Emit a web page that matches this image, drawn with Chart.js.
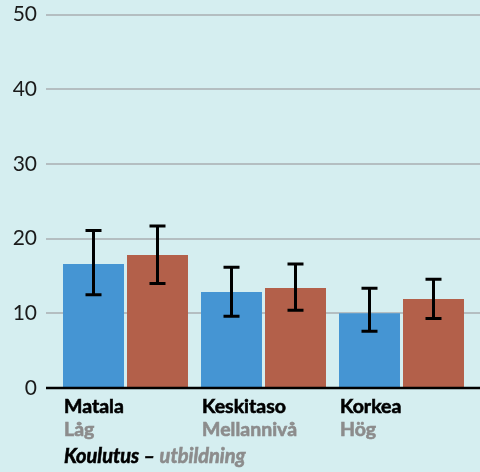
<!DOCTYPE html>
<html lang="fi">
<head>
    <meta charset="UTF-8">
    <title>Koulutus – utbildning</title>
    <script src="https://cdn.jsdelivr.net/npm/chart.js"></script>
    <style>
        html, body {
            margin: 0;
            padding: 0;
            background: #d5eef0;
        }
        #wrap {
            width: 480px;
            height: 472px;
        }
    </style>
</head>
<body>
    <div id="wrap"><canvas id="eduChart" width="480" height="472"></canvas></div>

    <script>
        const categoriesFi = ['Matala', 'Keskitaso', 'Korkea'];
        const categoriesSv = ['Låg', 'Mellannivå', 'Hög'];
        const blueValues = [16.6, 12.85, 10.0];
        const blueLow = [12.5, 9.6, 7.6];
        const blueHigh = [21.1, 16.15, 13.35];
        const redValues = [17.8, 13.4, 11.9];
        const redLow = [14.0, 10.4, 9.3];
        const redHigh = [21.7, 16.6, 14.55];
        const yTicks = [0, 10, 20, 30, 40, 50];

        const FONT = 'Lato, "Open Sans", sans-serif';

        // horizontal grid lines, drawn a bit wider than the plot area
        const gridPlugin = {
            id: 'wideGrid',
            beforeDatasetsDraw(chart) {
                const ctx = chart.ctx;
                const y = chart.scales.y;
                ctx.save();
                yTicks.forEach(v => {
                    const py = Math.round(y.getPixelForValue(v));
                    if (v === 0) return;
                    ctx.strokeStyle = '#a9aeb2';
                    ctx.lineWidth = 1.5;
                    ctx.beginPath();
                    ctx.moveTo(46, py);
                    ctx.lineTo(480, py);
                    ctx.stroke();
                });
                ctx.restore();
            },
            afterDatasetsDraw(chart) {
                // baseline over the bars
                const ctx = chart.ctx;
                const py = Math.round(chart.scales.y.getPixelForValue(0));
                ctx.save();
                ctx.strokeStyle = '#000';
                ctx.lineWidth = 2.5;
                ctx.beginPath();
                ctx.moveTo(46, py);
                ctx.lineTo(480, py);
                ctx.stroke();
                ctx.restore();
            }
        };

        const errorBarPlugin = {
            id: 'errorBars',
            afterDatasetsDraw(chart) {
                const ctx = chart.ctx;
                const y = chart.scales.y;
                const lows = [blueLow, redLow];
                const highs = [blueHigh, redHigh];
                ctx.save();
                ctx.strokeStyle = '#000';
                ctx.lineWidth = 3;
                chart.data.datasets.forEach((ds, di) => {
                    chart.getDatasetMeta(di).data.forEach((bar, i) => {
                        const x = bar.x;
                        const top = y.getPixelForValue(highs[di][i]);
                        const bot = y.getPixelForValue(lows[di][i]);
                        ctx.beginPath();
                        ctx.moveTo(x, top);
                        ctx.lineTo(x, bot);
                        ctx.moveTo(x - 8, top);
                        ctx.lineTo(x + 8, top);
                        ctx.moveTo(x - 8, bot);
                        ctx.lineTo(x + 8, bot);
                        ctx.stroke();
                    });
                });
                ctx.restore();
            }
        };

        // category labels (Finnish black, Swedish grey) and the axis title
        function boldText(ctx, text, x, y, color) {
            ctx.fillStyle = color;
            ctx.strokeStyle = color;
            ctx.lineWidth = 0.6;
            ctx.fillText(text, x, y);
            ctx.strokeText(text, x, y);
        }

        const labelPlugin = {
            id: 'catLabels',
            afterDraw(chart) {
                const ctx = chart.ctx;
                const bars = chart.getDatasetMeta(0).data;
                ctx.save();
                ctx.textAlign = 'left';
                ctx.textBaseline = 'alphabetic';
                bars.forEach((bar, i) => {
                    const left = bar.x - bar.width / 2 + 1;
                    ctx.font = 'bold 19.5px ' + FONT;
                    boldText(ctx, categoriesFi[i], left, 413, '#000');
                    boldText(ctx, categoriesSv[i], left, 436, '#8c8c8c');
                });
                const left0 = bars[0].x - bars[0].width / 2 + 1;
                ctx.font = 'italic bold 20px ' + FONT;
                const t1 = 'Koulutus – ';
                boldText(ctx, t1, left0, 463, '#000');
                const w1 = ctx.measureText(t1).width;
                boldText(ctx, 'utbildning', left0 + w1, 463, '#8c8c8c');
                ctx.restore();
            }
        };

        const ctx = document.getElementById('eduChart').getContext('2d');
        new Chart(ctx, {
            type: 'bar',
            data: {
                labels: categoriesFi,
                datasets: [
                    {
                        label: 'A',
                        data: blueValues,
                        backgroundColor: '#4595d3',
                        barPercentage: 0.953,
                        categoryPercentage: 0.9275
                    },
                    {
                        label: 'B',
                        data: redValues,
                        backgroundColor: '#b3604a',
                        barPercentage: 0.953,
                        categoryPercentage: 0.9275
                    }
                ]
            },
            options: {
                responsive: false,
                animation: false,
                layout: {
                    padding: { top: 14.5, right: 9.5, bottom: 84, left: 0 }
                },
                plugins: {
                    legend: { display: false },
                    tooltip: { enabled: false }
                },
                scales: {
                    x: {
                        display: false
                    },
                    y: {
                        min: 0,
                        max: 50,
                        ticks: {
                            stepSize: 10,
                            padding: 19.5,
                            color: '#1a1a1a',
                            font: { family: FONT, size: 21 }
                        },
                        grid: { display: false, drawTicks: false },
                        border: { display: false },
                        afterFit(scale) {
                            scale.width = 56.5;
                            scale.paddingTop = 0;
                            scale.paddingBottom = 0;
                        }
                    }
                }
            },
            plugins: [gridPlugin, errorBarPlugin, labelPlugin]
        });
    </script>
</body>
</html>
